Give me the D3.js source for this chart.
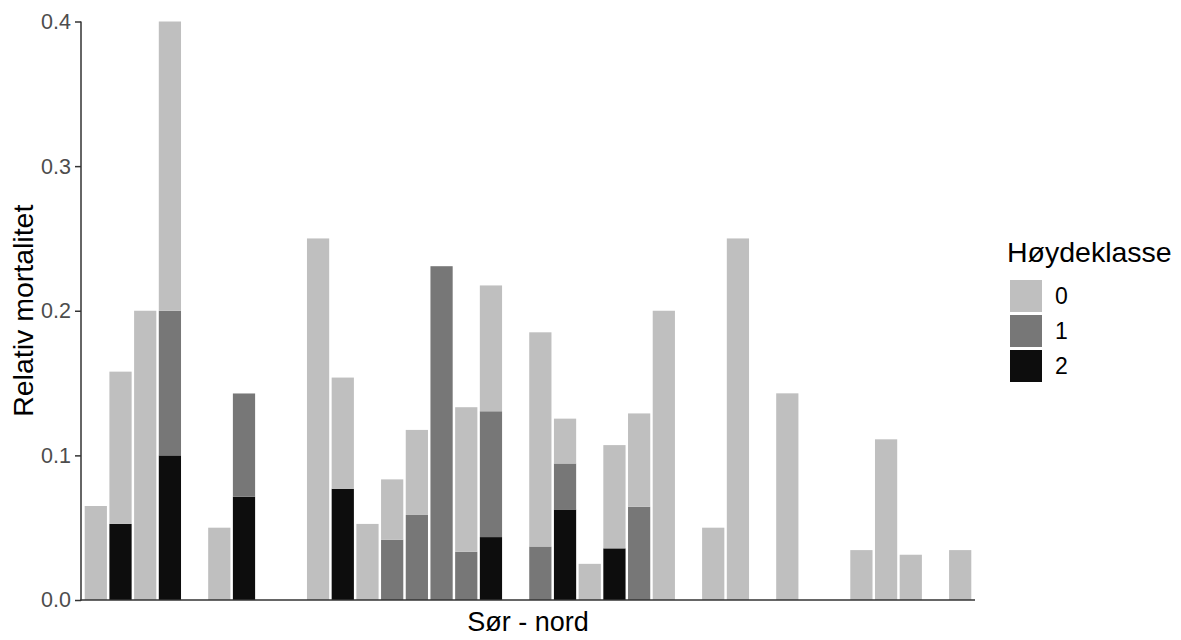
<!DOCTYPE html>
<html>
<head>
<meta charset="utf-8">
<script src="https://cdn.jsdelivr.net/npm/d3@7"></script>
<style>
  body { margin: 0; background: #fff; }
  text { font-family: "Liberation Sans", Arial, sans-serif; }
</style>
</head>
<body>
<svg id="chart"></svg>
<script>
// sites from south to north (x slots, no labels shown)
const sites = d3.range(1, 37).map(String);

// relative mortality per height class, stacked
const klasse0 = [0.065, 0.1053, 0.2, 0.2, 0, 0.05, 0, 0, 0, 0.25, 0.0769, 0.0526,
                 0.0417, 0.0588, 0, 0.1, 0.087, 0, 0.1481, 0.031, 0.025, 0.0714, 0.0645, 0.2,
                 0, 0.05, 0.25, 0, 0.1429, 0, 0, 0.0345, 0.1111, 0.0313, 0, 0.0345];
const klasse1 = [0, 0, 0, 0.1, 0, 0, 0.0714, 0, 0, 0, 0, 0,
                 0.0417, 0.0588, 0.2308, 0.0333, 0.087, 0, 0.037, 0.0318, 0, 0, 0.0645, 0,
                 0, 0, 0, 0, 0, 0, 0, 0, 0, 0, 0, 0];
const klasse2 = [0, 0.0526, 0, 0.1, 0, 0, 0.0714, 0, 0, 0, 0.0769, 0,
                 0, 0, 0, 0, 0.0435, 0, 0, 0.0626, 0, 0.0357, 0, 0,
                 0, 0, 0, 0, 0, 0, 0, 0, 0, 0, 0, 0];

const classes = ["0", "1", "2"];
const yTicks = [0, 0.1, 0.2, 0.3, 0.4];

// svg size and panel position
const widthSVG = 1181, heightSVG = 640;
const panel = { left: 81, right: 975, top: 21.5, bottom: 600 };

const svg = d3.select('svg#chart')
  .attr('width', widthSVG)
  .attr('height', heightSVG);

// build rows for the stack
const rows = sites.map((s, i) => ({ site: s, "0": klasse0[i], "1": klasse1[i], "2": klasse2[i] }));

// class 2 at the bottom, class 0 on top
const series = d3.stack().keys(["2", "1", "0"])(rows);

const x = d3.scaleBand()
  .domain(sites)
  .range([panel.left, panel.right])
  .paddingInner(0.1)
  .paddingOuter(0.15);

const y = d3.scaleLinear()
  .domain([0, 0.4])
  .range([panel.bottom, panel.top]);

const fill = d3.scaleOrdinal()
  .domain(classes)
  .range(['#BFBFBF', '#777777', '#0D0D0D']);

// bars
svg.append('g')
  .selectAll('g')
  .data(series)
  .enter()
  .append('g')
  .style('fill', d => fill(d.key))
  .selectAll('rect')
  .data(d => d.filter(p => p[1] - p[0] > 0))
  .enter()
  .append('rect')
  .attr('x', d => x(d.data.site))
  .attr('width', x.bandwidth())
  .attr('y', d => y(d[1]))
  .attr('height', d => y(d[0]) - y(d[1]));

// y axis
const yAxis = svg.append('g')
  .attr('transform', `translate(${panel.left}, 0)`)
  .call(d3.axisLeft(y).tickValues(yTicks).tickFormat(d3.format('.1f')).tickSize(6).tickPadding(4));
yAxis.select('.domain').remove();
yAxis.selectAll('.tick line').style('stroke', '#333').style('stroke-width', '1.5px');
yAxis.selectAll('.tick text')
  .style('font-size', '21.5px')
  .style('fill', '#4D4D4D')
  .style('font-family', '"Liberation Sans", Arial, sans-serif');

// axis lines
svg.append('line')
  .attr('x1', panel.left).attr('x2', panel.left)
  .attr('y1', panel.top).attr('y2', panel.bottom + 0.75)
  .style('stroke', '#333').style('stroke-width', '1.5px');
svg.append('line')
  .attr('x1', panel.left - 0.75).attr('x2', panel.right)
  .attr('y1', panel.bottom).attr('y2', panel.bottom)
  .style('stroke', '#333').style('stroke-width', '1.5px');

// axis titles
svg.append('text')
  .text('Sør - nord')
  .attr('x', (panel.left + panel.right) / 2)
  .attr('y', 631)
  .style('text-anchor', 'middle')
  .style('font-size', '27px');

svg.append('text')
  .text('Relativ mortalitet')
  .attr('transform', `translate(33, ${(panel.top + panel.bottom) / 2}) rotate(-90)`)
  .style('text-anchor', 'middle')
  .style('font-size', '28.5px');

// legend
const legend = svg.append('g').attr('transform', 'translate(1007, 0)');
legend.append('text')
  .text('Høydeklasse')
  .attr('x', 0)
  .attr('y', 262)
  .style('font-size', '28.5px');

const keys = legend.selectAll('g.key')
  .data(classes)
  .enter()
  .append('g')
  .classed('key', true)
  .attr('transform', (d, i) => `translate(3, ${280 + i * 35})`);

keys.append('rect')
  .attr('width', 32)
  .attr('height', 32)
  .style('fill', d => fill(d));

keys.append('text')
  .text(d => d)
  .attr('x', 45)
  .attr('y', 16)
  .attr('dy', '0.35em')
  .style('font-size', '23px');
</script>
</body>
</html>
